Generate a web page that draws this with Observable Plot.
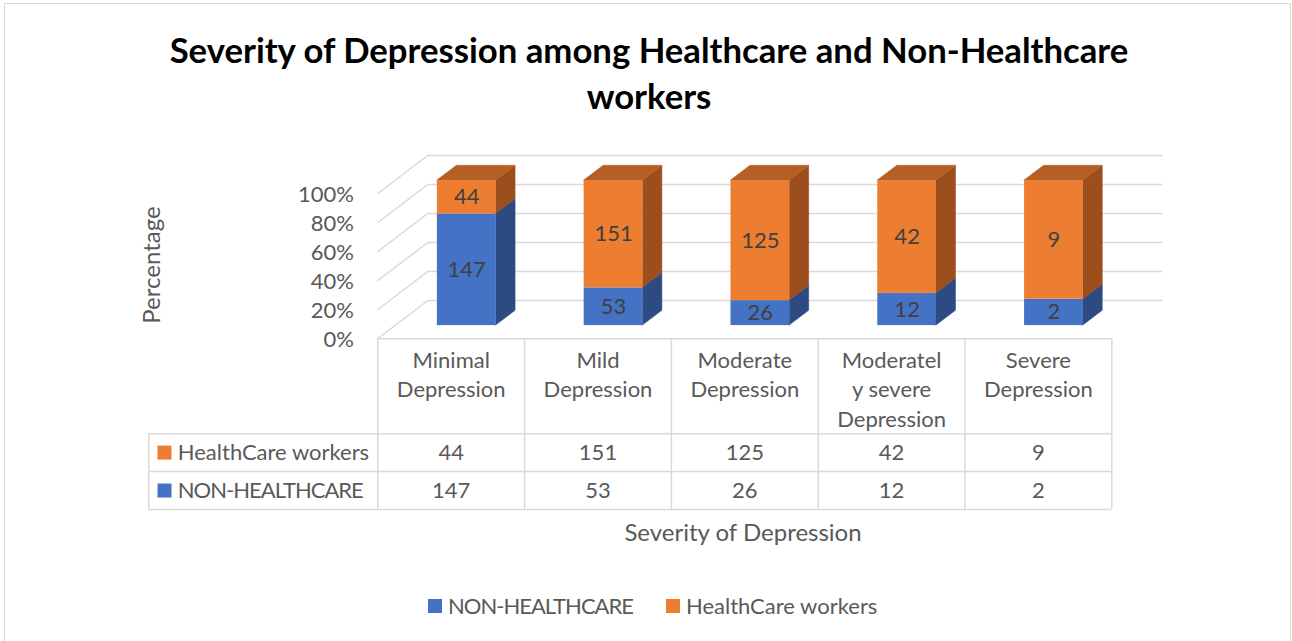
<!DOCTYPE html>
<html><head><meta charset="utf-8">
<script src="https://cdn.jsdelivr.net/npm/d3@7"></script>
<script src="https://cdn.jsdelivr.net/npm/@observablehq/plot@0.6"></script>
<style>
html,body{margin:0;padding:0;background:#fff;overflow:hidden}
#wrap{position:relative;width:1292px;height:641px;font-family:Lato,sans-serif;color:#595959;overflow:hidden}
#border{position:absolute;left:4px;top:3px;width:1287px;height:660px;border:1.5px solid #d9d9d9;box-sizing:border-box}
.abs{position:absolute;white-space:nowrap}
#title{left:0;top:27px;width:1298px;text-align:center;font-weight:bold;font-size:34.7px;line-height:46px;color:#000}
#ytitle{left:150px;top:265px;font-size:24px;transform:translate(-50%,-50%) rotate(-90deg)}
#xtitle{left:743px;top:531px;font-size:24px;transform:translate(-50%,-50%)}
.sw{position:absolute;width:14px;height:14px}
.lt{position:absolute;font-size:22px;line-height:22px}
.caps{letter-spacing:-0.045em}
.layer{position:absolute;left:0;top:0}
</style></head>
<body>
<div id="wrap">
  <div id="border"></div>
  <div id="title" class="abs">Severity of Depression among Healthcare and Non-Healthcare<br>workers</div>
  <div id="ytitle" class="abs">Percentage</div>
  <div id="xtitle" class="abs">Severity of Depression</div>
  <div id="legend"></div>
</div>
<script>
// ---- data ----
const categories = ["Minimal Depression", "Mild Depression", "Moderate Depression", "Moderately severe Depression", "Severe Depression"];
const categoryLabels = ["Minimal\nDepression", "Mild\nDepression", "Moderate\nDepression", "Moderatel\ny severe\nDepression", "Severe\nDepression"];
const seriesNames = ["NON-HEALTHCARE", "HealthCare workers"];
const nonHealthcare = [147, 53, 26, 12, 2];
const healthcare = [44, 151, 125, 42, 9];
const yTicks = [0, 0.2, 0.4, 0.6, 0.8, 1];

// ---- styles ----
const BLUE = "#4472C4", BLUE_SIDE = "#2D4B82";
const ORANGE = "#ED7D31", ORANGE_SIDE = "#9C4E1D", ORANGE_TOP = "#B65F24";
const GRID = "#d9d9d9";
const W = 1292, H = 641;
const XR = [377.3, 1111.3];           // pixel range of the 5 columns
const DX = 50 / 146.8, DY = 38 / 145; // depth projection (column units, value units)
const BC = 0.49, BW = 0.2, D0 = 0.34, D1 = 0.73;

const n = categories.length;
const P = (col, v, d) => ({x: col + d * DX, y: v + d * DY});

// gridlines (left wall + back wall)
const gridPts = yTicks.flatMap(t => [P(0, t, 0), P(0, t, 1), P(n, t, 1)].map(p => ({...p, t})));

// stacked 100% segments
const segments = categories.flatMap((c, i) => {
  const tot = nonHealthcare[i] + healthcare[i];
  const p = nonHealthcare[i] / tot;
  return [
    {i, s: 0, lo: 0, hi: p, value: nonHealthcare[i]},
    {i, s: 1, lo: p, hi: 1, value: healthcare[i]}
  ];
});
const sidePts = segments.flatMap((g, k) => [D0, D1].map(d => ({
  k, s: g.s, x: g.i + BC + BW + d * DX, y1: g.lo + d * DY, y2: g.hi + d * DY
})));
const topPts = segments.filter(g => g.hi === 1).flatMap((g, k) => [D0, D1].map(d => ({
  k, y: 1 + d * DY, x1: g.i + BC - BW + d * DX, x2: g.i + BC + BW + d * DX
})));
const fronts = segments.map(g => ({
  ...g, x1: g.i + BC - BW + D0 * DX, x2: g.i + BC + BW + D0 * DX,
  y1: g.lo + D0 * DY, y2: g.hi + D0 * DY, cx: g.i + BC + D0 * DX, cy: (g.lo + g.hi) / 2 + D0 * DY
}));

const chart = Plot.plot({
  width: W, height: H,
  marginLeft: XR[0], marginRight: W - XR[1], marginTop: 0, marginBottom: 0,
  style: {background: "transparent", fontFamily: "Lato, sans-serif", color: "#595959"},
  x: {type: "linear", domain: [0, n], range: XR, axis: null},
  y: {type: "linear", domain: [0, 1], range: [338, 193], label: null},
  marks: [
    Plot.line(gridPts, {x: "x", y: "y", z: "t", stroke: GRID, strokeWidth: 1.5}),
    Plot.areaY(sidePts.filter(d => d.s === 0), {x: "x", y1: "y1", y2: "y2", z: "k", fill: BLUE_SIDE, stroke: BLUE_SIDE, strokeWidth: 0.5}),
    Plot.areaY(sidePts.filter(d => d.s === 1), {x: "x", y1: "y1", y2: "y2", z: "k", fill: ORANGE_SIDE, stroke: ORANGE_SIDE, strokeWidth: 0.5}),
    Plot.areaX(topPts, {y: "y", x1: "x1", x2: "x2", z: "k", fill: ORANGE_TOP, stroke: ORANGE_TOP, strokeWidth: 0.5}),
    Plot.rect(fronts.filter(d => d.s === 0), {x1: "x1", x2: "x2", y1: "y1", y2: "y2", fill: BLUE}),
    Plot.rect(fronts.filter(d => d.s === 1), {x1: "x1", x2: "x2", y1: "y1", y2: "y2", fill: ORANGE}),
    Plot.text(fronts, {x: "cx", y: "cy", text: "value", fill: "#404040", fontSize: 22}),
    Plot.axisY(yTicks, {anchor: "left", tickFormat: d3.format(".0%"), tickSize: 0, tickPadding: 24, fontSize: 22, color: "#595959", label: null, dy: 1})
  ]
});
chart.classList.add("layer");
document.getElementById("wrap").appendChild(chart);

// ---- data table ----
const HX = (148.3 - XR[0]) / ((XR[1] - XR[0]) / n); // left edge of row-header column, in column units
const cols = d3.range(n + 1);
const cells = categories.flatMap((c, i) => [
  {i, row: 2.5, v: healthcare[i]},
  {i, row: 3.5, v: nonHealthcare[i]}
]);
const rowHeads = [
  {name: seriesNames[1], row: 2.5, color: ORANGE, caps: false},
  {name: seriesNames[0], row: 3.5, color: BLUE, caps: true}
];

const table = Plot.plot({
  width: W, height: H,
  marginLeft: 148.3, marginRight: W - XR[1], marginTop: 0, marginBottom: 0,
  style: {background: "transparent", fontFamily: "Lato, sans-serif", color: "#595959"},
  x: {type: "linear", domain: [0, n], range: XR, axis: null},
  y: {type: "linear", domain: [0, 4.5], range: [338.3, 509], axis: null},
  color: {type: "identity"},
  marks: [
    Plot.ruleX(cols, {y1: 0, y2: 4.5, stroke: GRID, strokeWidth: 1.5}),
    Plot.ruleX([HX], {y1: 2.5, y2: 4.5, stroke: GRID, strokeWidth: 1.5}),
    Plot.ruleY([0], {x1: 0, x2: n, stroke: GRID, strokeWidth: 1.5}),
    Plot.ruleY([2.5, 3.5, 4.5], {x1: HX, x2: n, stroke: GRID, strokeWidth: 1.5}),
    Plot.text(categoryLabels, {x: (d, i) => i + 0.5, y: 0, text: d => d, lineAnchor: "top", dy: 8, lineHeight: 1.34, fontSize: 22, fill: "#595959"}),
    Plot.text(cells, {x: d => d.i + 0.5, y: d => d.row + 0.5, text: "v", fontSize: 22, fill: "#595959"}),
    Plot.dot(rowHeads, {x: HX, y: d => d.row + 0.5, dx: 15.7, symbol: "square", r: 7.9, fill: "color", stroke: null}),
    Plot.text(rowHeads.filter(d => !d.caps), {x: HX, y: d => d.row + 0.5, dx: 29, text: "name", textAnchor: "start", fontSize: 22, fill: "#595959"}),
    Plot.text(rowHeads.filter(d => d.caps), {x: HX, y: d => d.row + 0.5, dx: 29, text: "name", textAnchor: "start", fontSize: 22, fill: "#595959", className: "caps"})
  ]
});
table.classList.add("layer");
table.querySelectorAll(".caps text, g.caps text").forEach(t => t.style.letterSpacing = "-0.045em");
document.getElementById("wrap").appendChild(table);

// ---- legend ----
const legend = document.getElementById("legend");
const legendItems = [
  {name: seriesNames[0], color: BLUE, sx: 428, tx: 448, caps: true},
  {name: seriesNames[1], color: ORANGE, sx: 666, tx: 686, caps: false}
];
for (const it of legendItems) {
  const sw = document.createElement("div");
  sw.className = "sw"; sw.style.left = it.sx + "px"; sw.style.top = "599px"; sw.style.background = it.color;
  const t = document.createElement("div");
  t.className = "lt" + (it.caps ? " caps" : ""); t.style.left = it.tx + "px"; t.style.top = "595px"; t.textContent = it.name;
  legend.appendChild(sw); legend.appendChild(t);
}
</script>
</body></html>
